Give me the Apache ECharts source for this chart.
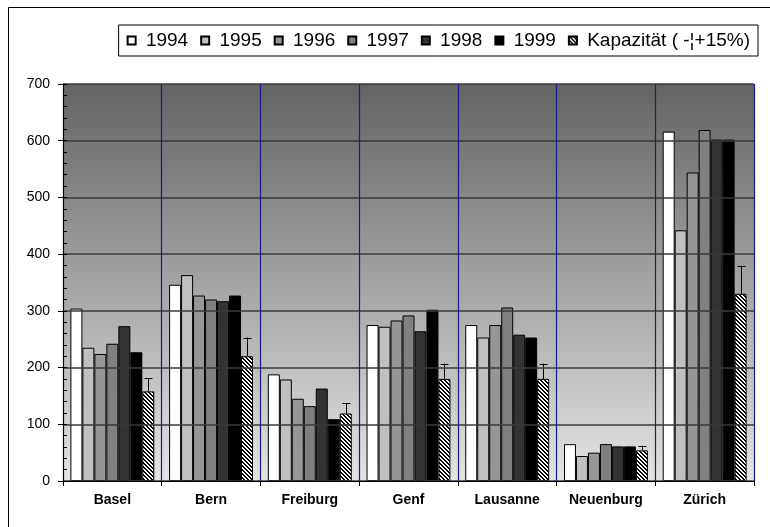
<!DOCTYPE html>
<html>
<head>
<meta charset="utf-8">
<script src="https://cdn.jsdelivr.net/npm/echarts@6/dist/echarts.min.js"></script>
<style>
  html, body { margin: 0; padding: 0; background: #ffffff; }
  #chart { width: 770px; height: 527px; }
</style>
</head>
<body>
<div id="chart"></div>
<script>
// Student numbers per city and year, plus housing capacity
const cities = ['Basel', 'Bern', 'Freiburg', 'Genf', 'Lausanne', 'Neuenburg', 'Zürich'];
const years = ['1994', '1995', '1996', '1997', '1998', '1999'];
const v1994 = [304, 346, 188, 275, 275, 65, 616];
const v1995 = [235, 363, 179, 272, 253, 44, 442];
const v1996 = [224, 327, 145, 283, 275, 50, 544];
const v1997 = [242, 320, 132, 292, 306, 65, 619];
const v1998 = [273, 317, 163, 264, 258, 61, 602];
const v1999 = [227, 327, 109, 302, 253, 61, 602];
const capacity = [158, 220, 119, 180, 180, 54, 330];
const capacityMargin = 0.15;
const capacityName = 'Kapazität ( -\u00A6+15%)';
const yMin = 0, yMax = 700, yStep = 100, yMinorStep = 20;

const yearValues = [v1994, v1995, v1996, v1997, v1998, v1999];
const yearColors = ['#ffffff', '#c0c0c0', '#969696', '#808080', '#333333', '#000000'];

// diagonal hatch used for the capacity bars
function hatchPattern() {
  const c = document.createElement('canvas');
  c.width = 4; c.height = 4;
  const ctx = c.getContext('2d');
  const img = ctx.createImageData(4, 4);
  for (let y = 0; y < 4; y++) {
    for (let x = 0; x < 4; x++) {
      const k = (y * 4 + x) * 4;
      const dark = (((x - y) % 4) + 4) % 4 < 2;
      const g = dark ? 0 : 255;
      img.data[k] = g; img.data[k + 1] = g; img.data[k + 2] = g; img.data[k + 3] = 255;
    }
  }
  ctx.putImageData(img, 0, 0);
  return c;
}

const FONT = 'Liberation Sans, Arial, sans-serif';
const CAT_GAP = 0.15;
const BARS_PER_GROUP = 7;

const chart = echarts.init(document.getElementById('chart'), null, { renderer: 'canvas' });

const series = years.map((y, i) => ({
  name: y,
  type: 'bar',
  data: yearValues[i],
  barGap: '0%',
  barCategoryGap: (CAT_GAP * 100) + '%',
  itemStyle: { color: yearColors[i], borderColor: '#000', borderWidth: 1 },
  emphasis: { disabled: true },
  z: 3
}));

series.push({
  name: capacityName,
  type: 'bar',
  data: capacity,
  barGap: '0%',
  barCategoryGap: (CAT_GAP * 100) + '%',
  itemStyle: { color: { image: hatchPattern(), repeat: 'repeat' }, borderColor: '#000', borderWidth: 1 },
  emphasis: { disabled: true },
  z: 3
});

// upper error whiskers on the capacity bars (+15%)
series.push({
  name: 'capacityError',
  type: 'custom',
  data: capacity.map((v, i) => [i, v]),
  z: 4,
  renderItem: function (params, api) {
    const idx = api.value(0);
    const v = api.value(1);
    const base = api.coord([idx, v]);
    const top = api.coord([idx, v * (1 + capacityMargin)]);
    const band = api.size([1, 0])[0];
    const barW = band * (1 - CAT_GAP) / BARS_PER_GROUP;
    const x = Math.round(base[0] + 3 * barW) + 0.5;
    const style = { stroke: '#000', lineWidth: 1 };
    return {
      type: 'group',
      children: [
        { type: 'line', shape: { x1: x, y1: base[1], x2: x, y2: top[1] }, style: style },
        { type: 'line', shape: { x1: x - 4, y1: Math.round(top[1]) + 0.5, x2: x + 4, y2: Math.round(top[1]) + 0.5 }, style: style }
      ]
    };
  }
});

const option = {
  animation: false,
  backgroundColor: '#ffffff',
  textStyle: { fontFamily: FONT },
  grid: {
    left: 63, right: 16, top: 84, bottom: 46,
    show: true,
    borderWidth: 0,
    backgroundColor: {
      type: 'linear', x: 0, y: 0, x2: 0, y2: 1,
      colorStops: [
        { offset: 0, color: '#636363' },
        { offset: 1, color: '#e4e4e4' }
      ]
    }
  },
  legend: {
    data: years.concat([capacityName]),
    formatter: function (name) { return ' ' + name; },
    right: 12,
    top: 25,
    icon: 'rect',
    itemWidth: 8,
    itemHeight: 8,
    itemGap: 12,
    padding: [6, 8, 6, 8],
    borderColor: '#000',
    borderWidth: 1,
    backgroundColor: '#ffffff',
    selectedMode: false,
    textStyle: { fontFamily: FONT, fontSize: 19, color: '#000' }
  },
  xAxis: {
    type: 'category',
    data: cities,
    boundaryGap: true,
    axisLine: { show: true, lineStyle: { color: '#000', width: 1 } },
    axisTick: { show: true, length: 5, lineStyle: { color: '#000' } },
    axisLabel: { color: '#000', fontSize: 14, fontWeight: 'bold', fontFamily: FONT, margin: 12 },
    splitLine: { show: true, lineStyle: { color: '#1a1a90', width: 1.2 } },
    z: 5
  },
  yAxis: [
    {
      type: 'value',
      min: yMin, max: yMax, interval: yStep,
      axisLine: { show: true, lineStyle: { color: '#000', width: 1 } },
      axisTick: { show: true, length: 5, lineStyle: { color: '#000' } },
      axisLabel: { color: '#000', fontSize: 14, fontFamily: FONT, margin: 13 },
      splitLine: { show: true, lineStyle: { color: '#3a3a3a', width: 1.5 } },
      z: 5
    },
    {
      // inner minor tick marks
      type: 'value',
      position: 'left',
      min: yMin, max: yMax, interval: yMinorStep,
      axisLine: { show: false },
      axisTick: { show: true, inside: true, length: 4, lineStyle: { color: '#000' } },
      axisLabel: { show: false },
      splitLine: { show: false },
      z: 5
    }
  ],
  series: series,
  graphic: [
    {
      type: 'polyline',
      shape: { points: [[8.5, 527], [8.5, 7.5], [770, 7.5]] },
      style: { stroke: '#000', lineWidth: 1, fill: null },
      silent: true
    }
  ]
};

chart.setOption(option);
</script>
</body>
</html>
